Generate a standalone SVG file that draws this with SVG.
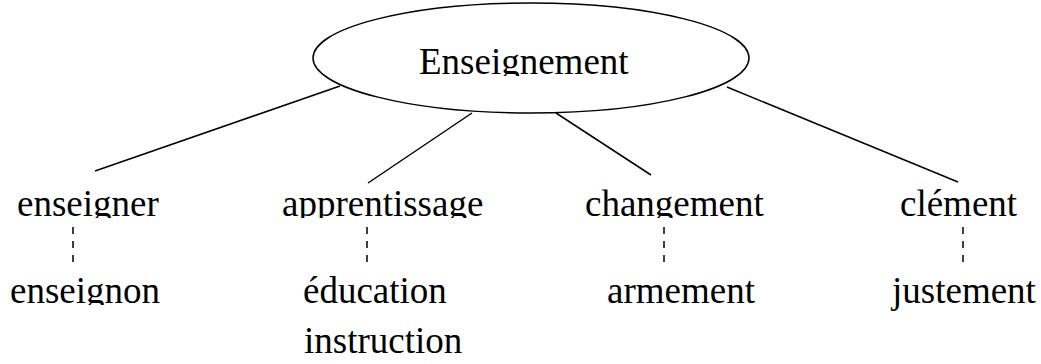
<svg xmlns="http://www.w3.org/2000/svg" width="1041" height="364" viewBox="0 0 1041 364">
<style>
text{font-family:"Liberation Serif","Times New Roman",serif;font-size:37px;fill:#000}
.edge{stroke:#000;stroke-width:1.5;fill:none}
.dash{stroke:#000;stroke-width:1.5;fill:none;stroke-dasharray:7 7}
</style>
<defs>
<clipPath id="c0"><rect x="0" y="0" width="1041" height="76"/></clipPath>
<clipPath id="c1"><rect x="0" y="150" width="1041" height="68"/></clipPath>
<clipPath id="c2"><rect x="0" y="260" width="300" height="45"/></clipPath>
</defs>
<rect width="1041" height="364" fill="#fff"/>
<g id="connectors">
<line class="edge" x1="340" y1="86" x2="95" y2="171"/>
<line class="edge" x1="472" y1="113" x2="368" y2="183"/>
<line class="edge" x1="556" y1="113" x2="651" y2="175"/>
<line class="edge" x1="727" y1="87" x2="958" y2="182"/>
<line class="dash" x1="73" y1="227" x2="73" y2="262"/>
<line class="dash" x1="367" y1="227" x2="367" y2="262"/>
<line class="dash" x1="664" y1="227" x2="664" y2="262"/>
<line class="dash" x1="963" y1="227" x2="963" y2="262"/>
</g>
<g id="root">
<ellipse cx="531" cy="58" rx="218" ry="55" fill="#fff" stroke="#000" stroke-width="1.5"/>
<text x="419" y="74" clip-path="url(#c0)">Enseignement</text>
</g>
<g id="n-enseigner"><text x="17" y="216" clip-path="url(#c1)">enseigner</text></g>
<g id="n-apprentissage"><text x="282" y="216" clip-path="url(#c1)">apprentissage</text></g>
<g id="n-changement"><text x="585" y="216" clip-path="url(#c1)">changement</text></g>
<g id="n-clement"><text x="900" y="216">clément</text></g>
<g id="n-enseignon"><text x="10" y="303" clip-path="url(#c2)">enseignon</text></g>
<g id="n-education"><text x="303" y="303">éducation</text><text x="304" y="353">instruction</text></g>
<g id="n-armement"><text x="607" y="303">armement</text></g>
<g id="n-justement"><text x="892" y="303">justement</text></g>
</svg>
